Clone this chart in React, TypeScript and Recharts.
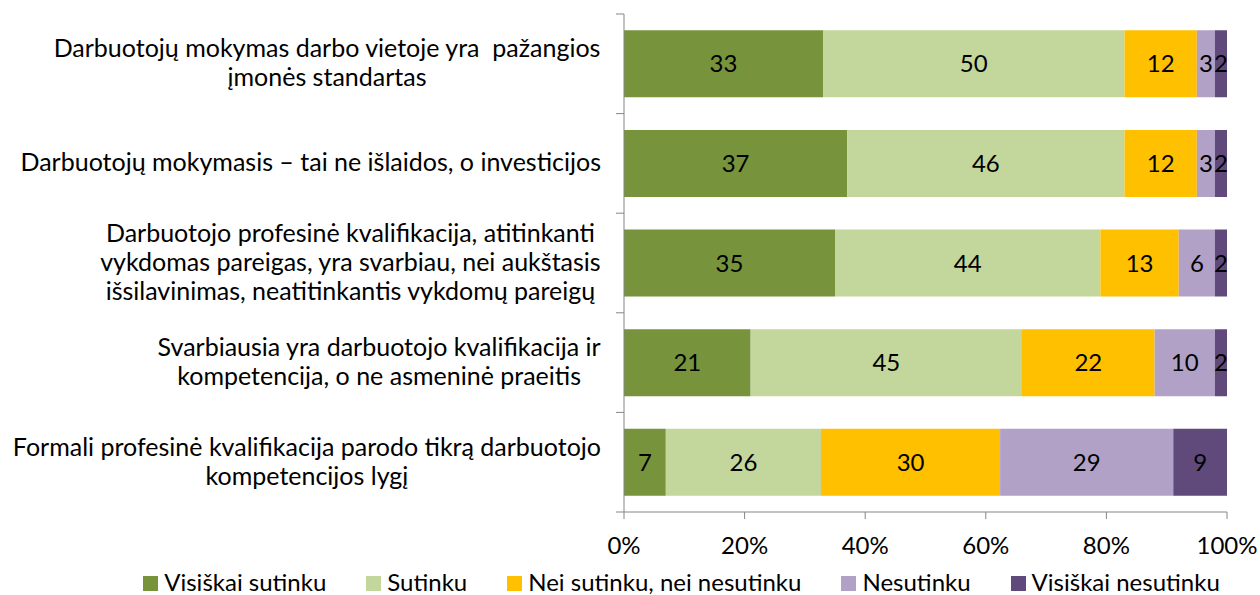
import { BarChart, Bar, XAxis, YAxis, LabelList } from "recharts";

const categories = [
  "Darbuotojų mokymas darbo vietoje yra  pažangios\nįmonės standartas",
  "Darbuotojų mokymasis – tai ne išlaidos, o investicijos",
  "Darbuotojo profesinė kvalifikacija, atitinkanti\nvykdomas pareigas, yra svarbiau, nei aukštasis\nišsilavinimas, neatitinkantis vykdomų pareigų",
  "Svarbiausia yra darbuotojo kvalifikacija ir\nkompetencija, o ne asmeninė praeitis",
  "Formali profesinė kvalifikacija parodo tikrą darbuotojo\nkompetencijos lygį",
];

const seriesNames = [
  "Visiškai sutinku",
  "Sutinku",
  "Nei sutinku, nei nesutinku",
  "Nesutinku",
  "Visiškai nesutinku",
];
const seriesColors = ["#77933C", "#C3D69B", "#FFC000", "#B2A1C7", "#604A7B"];

const visiskaiSutinku = [33, 37, 35, 21, 7];
const sutinku = [50, 46, 44, 45, 26];
const neiNei = [12, 12, 13, 22, 30];
const nesutinku = [3, 3, 6, 10, 29];
const visiskaiNesutinku = [2, 2, 2, 2, 9];

const xTicks = [0, 0.2, 0.4, 0.6, 0.8, 1];

const seriesValues = [visiskaiSutinku, sutinku, neiNei, nesutinku, visiskaiNesutinku];

const data = categories.map((name, i) => {
  const row: Record<string, string | number> = { name };
  seriesNames.forEach((s, k) => {
    row[s] = seriesValues[k][i];
  });
  return row;
});

const W = 1260;
const H = 595;
const PLOT_LEFT = 624;
const PLOT_RIGHT = 1227;
const PLOT_TOP = 14;
const PLOT_BOTTOM = 512;
const FONT = "Lato";
const LABEL_FS = 25;
const FS = 24;
const AXIS = "#868686";

let ctx: CanvasRenderingContext2D | null = null;
function measure(text: string) {
  if (!ctx) ctx = document.createElement("canvas").getContext("2d");
  if (!ctx) return text.length * LABEL_FS * 0.5;
  ctx.font = `${LABEL_FS}px ${FONT}`;
  return ctx.measureText(text).width;
}

function CategoryTick(props: any) {
  const { y, payload, index } = props;
  const lines = String(payload.value).split("\n");
  const w = Math.max(...lines.map(measure));
  const cx = 601 - w / 2;
  const lh = 29;
  const y0 = y - 2 - ((lines.length - 1) * lh) / 2;
  const band = (PLOT_BOTTOM - PLOT_TOP) / categories.length;
  return (
    <g>
      <line x1={PLOT_LEFT - 8} x2={PLOT_LEFT} y1={y - band / 2} y2={y - band / 2} stroke={AXIS} />
      {index === categories.length - 1 && (
        <line x1={PLOT_LEFT - 8} x2={PLOT_LEFT} y1={y + band / 2} y2={y + band / 2} stroke={AXIS} />
      )}
      {lines.map((l, i) => (
        <text
          key={i}
          x={cx}
          y={y0 + i * lh}
          textAnchor="middle"
          dominantBaseline="central"
          fontFamily={FONT}
          fontSize={LABEL_FS}
          fill="#000"
          style={{ whiteSpace: "pre" }}
        >
          {l}
        </text>
      ))}
    </g>
  );
}

function ChartLegend() {
  return (
    <div
      style={{
        position: "absolute",
        left: 0,
        top: 567,
        width: W,
        display: "flex",
        justifyContent: "center",
        gap: 40,
        paddingLeft: 103,
        boxSizing: "border-box",
        fontFamily: FONT,
        fontSize: 24,
        lineHeight: "30px",
        color: "#000",
      }}
    >
      {seriesNames.map((s, i) => (
        <div key={s} style={{ display: "flex", alignItems: "center", gap: 6 }}>
          <span style={{ width: 15, height: 15, background: seriesColors[i], display: "inline-block", marginTop: 2 }} />
          <span>{s}</span>
        </div>
      ))}
    </div>
  );
}

export default function App() {
  return (
    <div style={{ position: "absolute", left: 0, top: 0, width: W, height: H, background: "#fff" }}>
      <BarChart
        width={W}
        height={H}
        data={data}
        layout="vertical"
        stackOffset="expand"
        barCategoryGap="16.4%"
        margin={{ top: PLOT_TOP, right: W - PLOT_RIGHT, bottom: 0, left: 0 }}
      >
        <XAxis
          type="number"
          domain={[0, 1]}
          ticks={xTicks}
          tickFormatter={(v: number) => `${Math.round(v * 100)}%`}
          axisLine={{ stroke: AXIS }}
          tickLine={{ stroke: AXIS }}
          tickSize={7}
          tick={{ fill: "#000", fontFamily: FONT, fontSize: FS }}
          tickMargin={18}
          interval={0}
          height={H - PLOT_BOTTOM}
        />
        <YAxis
          type="category"
          dataKey="name"
          width={PLOT_LEFT}
          axisLine={{ stroke: AXIS }}
          tickLine={false}
          tick={<CategoryTick />}
          interval={0}
        />
        {seriesNames.map((s, i) => (
          <Bar key={s} dataKey={s} stackId="a" fill={seriesColors[i]} isAnimationActive={false}>
            <LabelList dataKey={s} position="center" fill="#000" fontFamily={FONT} fontSize={FS} />
          </Bar>
        ))}
      </BarChart>
      <ChartLegend />
    </div>
  );
}
